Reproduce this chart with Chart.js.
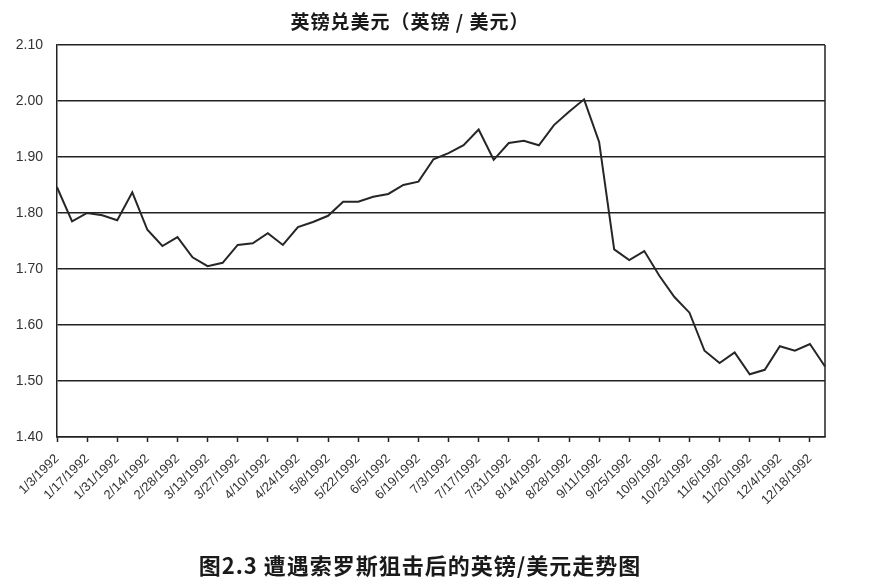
<!DOCTYPE html>
<html>
<head>
<meta charset="utf-8">
<script src="https://cdn.jsdelivr.net/npm/chart.js@4/dist/chart.umd.min.js"></script>
<style>
  body { margin: 0; background: #fff; }
  #wrap { position: relative; width: 879px; height: 587px; }
  #title {
    position: absolute; left: 0; top: 10px; width: 820px; text-align: center;
    font: bold 19px "Noto Sans CJK SC", sans-serif; color: #1a1a1a; line-height: 22px;
    letter-spacing: 1px;
  }
  #caption {
    position: absolute; left: 0; top: 551px; width: 840px; text-align: center;
    font: bold 22px "Noto Sans CJK SC", sans-serif; color: #1a1a1a; line-height: 26px;
    letter-spacing: 1px;
  }
</style>
</head>
<body>
<div id="wrap">
  <canvas id="lineChart"></canvas>
  <div id="title">英镑兑美元（英镑 / 美元）</div>
  <div id="caption">图2.3 遭遇索罗斯狙击后的英镑/美元走势图</div>
</div>
<script>
// weekly closes, 1992
const weeks = [
  '1/3/1992', '1/10/1992', '1/17/1992', '1/24/1992', '1/31/1992', '2/7/1992',
  '2/14/1992', '2/21/1992', '2/28/1992', '3/6/1992', '3/13/1992', '3/20/1992',
  '3/27/1992', '4/3/1992', '4/10/1992', '4/17/1992', '4/24/1992', '5/1/1992',
  '5/8/1992', '5/15/1992', '5/22/1992', '5/29/1992', '6/5/1992', '6/12/1992',
  '6/19/1992', '6/26/1992', '7/3/1992', '7/10/1992', '7/17/1992', '7/24/1992',
  '7/31/1992', '8/7/1992', '8/14/1992', '8/21/1992', '8/28/1992', '9/4/1992',
  '9/11/1992', '9/18/1992', '9/25/1992', '10/2/1992', '10/9/1992', '10/16/1992',
  '10/23/1992', '10/30/1992', '11/6/1992', '11/13/1992', '11/20/1992', '11/27/1992',
  '12/4/1992', '12/11/1992', '12/18/1992', '12/25/1992'
];

const gbpUsd = [
  1.846, 1.785, 1.800, 1.796, 1.787, 1.837,
  1.770, 1.741, 1.757, 1.721, 1.705, 1.711,
  1.743, 1.746, 1.764, 1.743, 1.775, 1.784,
  1.795, 1.820, 1.820, 1.829, 1.834, 1.850,
  1.856, 1.896, 1.907, 1.921, 1.949, 1.895,
  1.925, 1.929, 1.921, 1.957, 1.981, 2.003,
  1.927, 1.735, 1.716, 1.732, 1.688, 1.650,
  1.622, 1.554, 1.532, 1.551, 1.512, 1.520,
  1.562, 1.554, 1.566, 1.526
];

const yMin = 1.40;
const yMax = 2.10;
const yStep = 0.10;

const ink = '#222';

// right edge of the plot frame
const frameRight = {
  id: 'frameRight',
  afterDraw(chart) {
    const { ctx, chartArea } = chart;
    ctx.save();
    ctx.strokeStyle = ink;
    ctx.lineWidth = 1.5;
    ctx.beginPath();
    ctx.moveTo(chartArea.right, chartArea.top);
    ctx.lineTo(chartArea.right, chartArea.bottom);
    ctx.stroke();
    ctx.restore();
  }
};

const ctx = document.getElementById('lineChart').getContext('2d');
new Chart(ctx, {
  type: 'line',
  data: {
    labels: weeks,
    datasets: [
      {
        label: '英镑/美元',
        data: gbpUsd,
        borderColor: '#262626',
        borderWidth: 2,
        pointRadius: 0,
        tension: 0,
      },
    ],
  },
  options: {
    responsive: true,
    maintainAspectRatio: false,
    animation: false,
    layout: { padding: { top: 45, right: 54, left: 0, bottom: 0 } },
    plugins: {
      legend: { display: false },
      tooltip: { enabled: false },
    },
    scales: {
      x: {
        ticks: {
          autoSkip: false,
          maxRotation: 45,
          minRotation: 45,
          padding: 9,
          color: '#333',
          font: { family: 'Liberation Sans', size: 13 },
          callback: (v, i) => (i % 2 === 0 ? weeks[i] : ''),
        },
        grid: {
          drawOnChartArea: false,
          drawTicks: true,
          tickLength: 5,
          tickColor: (c) => (c.index % 2 === 0 ? ink : 'transparent'),
          tickWidth: 1.5,
        },
        border: { display: true, color: ink, width: 1.5 },
        afterFit: (s) => { s.height = 150; },
      },
      y: {
        min: yMin,
        max: yMax,
        ticks: {
          stepSize: yStep,
          padding: 14,
          color: '#333',
          font: { family: 'Liberation Sans', size: 14 },
          callback: (v) => Number(v).toFixed(2),
        },
        grid: { color: ink, lineWidth: 1.5, drawTicks: false },
        border: { display: true, color: ink, width: 1.5 },
        afterFit: (s) => { s.width = 57; },
      },
    },
  },
  plugins: [frameRight],
});
</script>
</body>
</html>
